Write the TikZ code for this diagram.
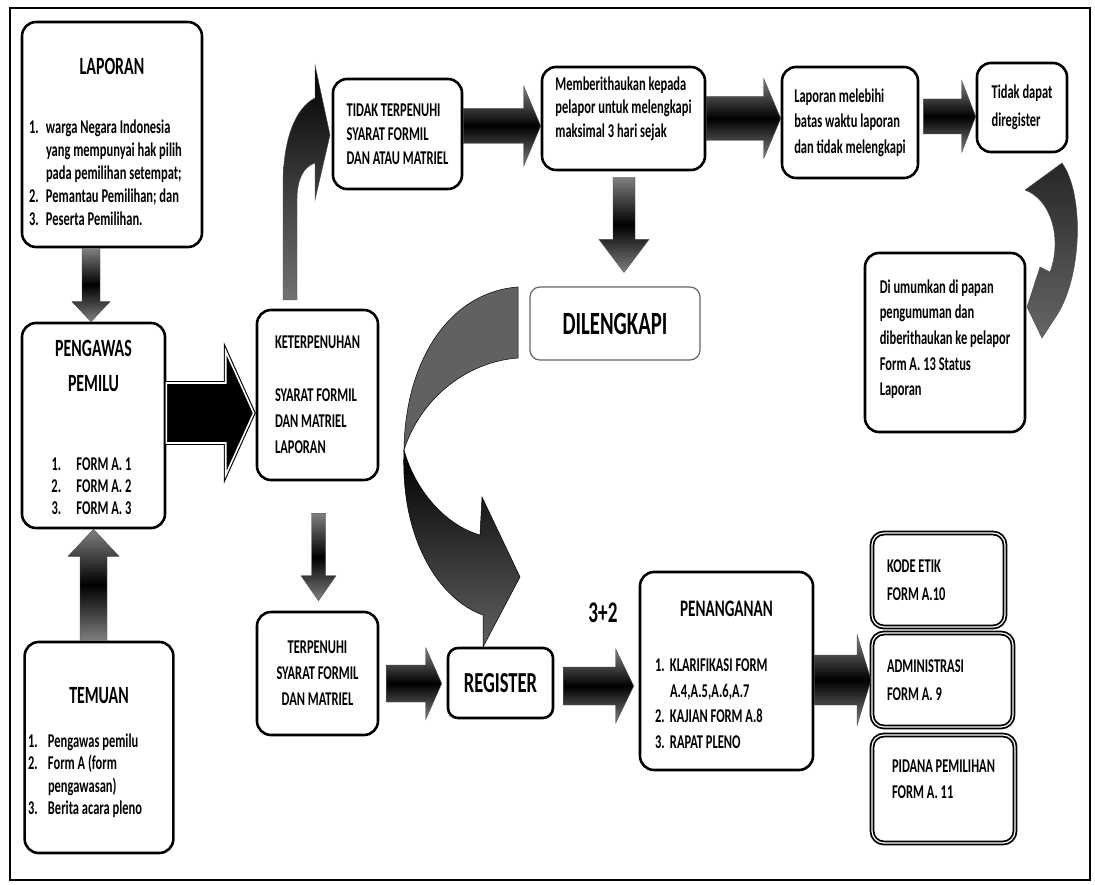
\documentclass[tikz,border=0pt]{standalone}
\usepackage{fontspec}
\setmainfont{Carlito}[FakeStretch=0.64]
\usetikzlibrary{calc}

\newcommand{\nmr}[2][17pt]{\makebox[#1][l]{#2}}
\newcommand{\ttl}{\fontsize{24.8}{26}\selectfont}

\tikzset{
  box/.style={draw, line width=2.6pt, rounded corners=14pt, fill=white, align=flush left,
    font=\fontsize{19.5}{25}\selectfont\bfseries},
  tribox/.style={box, line width=1.8pt, double=white, double distance=1.2pt, rounded corners=12pt},
  thinbox/.style={draw=black!60, line width=1.2pt, rounded corners=10pt, fill=white,
    font=\fontsize{32.4}{34}\selectfont\bfseries},
  barrow/.style={draw=black!70, line width=0.4pt, top color=black!50, bottom color=black!50, middle color=black},
  bigarrow/.style={fill=black, draw=black, line width=1.1pt, double=white, double distance=1.6pt},
  rarrow/.style n args={3}{to path={let \p1=(\tikztostart), \p2=(\tikztotarget) in
    (\x1,\y1+#1) -- (\x2-#3,\y1+#1) -- (\x2-#3,\y1+#2) -- (\x2,\y1)
    -- (\x2-#3,\y1-#2) -- (\x2-#3,\y1-#1) -- (\x1,\y1-#1) -- cycle}},
  darrow/.style n args={3}{to path={let \p1=(\tikztostart), \p2=(\tikztotarget) in
    (\x1-#1,\y1) -- (\x1-#1,\y2+#3) -- (\x1-#2,\y2+#3) -- (\x1,\y2)
    -- (\x1+#2,\y2+#3) -- (\x1+#1,\y2+#3) -- (\x1+#1,\y1) -- cycle}},
  uarrow/.style n args={3}{to path={let \p1=(\tikztostart), \p2=(\tikztotarget) in
    (\x1-#1,\y1) -- (\x1-#1,\y2-#3) -- (\x1-#2,\y2-#3) -- (\x1,\y2)
    -- (\x1+#2,\y2-#3) -- (\x1+#1,\y2-#3) -- (\x1+#1,\y1) -- cycle}},
}

\begin{document}
\begin{tikzpicture}[x=1pt, y=-1pt]
\useasboundingbox (0,0) rectangle (1095,885);
\draw[line width=1.4pt] (10,8) rectangle (1090,880);

% kolom kiri
\node[box, text width=166pt, minimum width=180pt, minimum height=225pt,
  font=\fontsize{19.5}{23}\selectfont\bfseries] (laporan) at (112,134.5)
  {\makebox[\linewidth]{\rule{0pt}{32pt}\ttl LAPORAN}\\[36pt]
   \nmr{1.}warga Negara Indonesia\\
   \hspace*{17pt}yang mempunyai hak pilih\\
   \hspace*{17pt}pada pemilihan setempat;\\
   \nmr{2.}Pemantau Pemilihan; dan\\
   \nmr{3.}Peserta Pemilihan.};
\node[box, text width=100pt, minimum width=143pt, minimum height=205pt,
  font=\fontsize{19.5}{22}\selectfont\bfseries] (pengawas) at (93.5,425.5)
  {\makebox[\linewidth]{\rule{0pt}{20pt}\ttl PENGAWAS}\\[13pt]
   \makebox[\linewidth]{\ttl PEMILU}\\[57pt]
   \hspace*{8pt}\nmr[25pt]{1.}FORM A. 1\\
   \hspace*{8pt}\nmr[25pt]{2.}FORM A. 2\\
   \hspace*{8pt}\nmr[25pt]{3.}FORM A. 3};
\node[box, text width=142pt, minimum width=148pt, minimum height=211pt,
  font=\fontsize{19.5}{22.5}\selectfont\bfseries] (temuan) at (99,747.5)
  {\makebox[\linewidth]{\rule{0pt}{27pt}\ttl TEMUAN}\\[21pt]
   \nmr[20pt]{1.}Pengawas pemilu\\
   \nmr[20pt]{2.}Form A (form\\
   \hspace*{20pt}pengawasan)\\
   \nmr[20pt]{3.}Berita acara pleno};

% kolom tengah
\node[box, minimum width=121pt, minimum height=170pt,
  font=\fontsize{19.5}{26}\selectfont\bfseries] (keterpenuhan) at (317.5,395)
  {KETERPENUHAN\\[27pt]SYARAT FORMIL\\DAN MATRIEL\\LAPORAN};
\node[box, align=center, minimum width=121pt, minimum height=123pt,
  font=\fontsize{19.5}{26}\selectfont\bfseries] (terpenuhi) at (317.5,673.5)
  {TERPENUHI\\SYARAT FORMIL\\DAN MATRIEL};
\node[box, rounded corners=10pt, minimum width=105pt, minimum height=70pt,
  font=\fontsize{29}{31}\selectfont\bfseries] (register) at (500.5,683) {REGISTER};
\node[font=\fontsize{30}{32}\selectfont\bfseries] (tigadua) at (603,613) {3+2};
\node[box, text width=143pt, minimum width=173pt, minimum height=198pt,
  font=\fontsize{19.5}{25.5}\selectfont\bfseries] (penanganan) at (726.5,671)
  {\makebox[\linewidth]{\rule{0pt}{23pt}\fontsize{23.7}{25}\selectfont PENANGANAN}\\[30pt]
   \nmr[15pt]{1.}KLARIFIKASI FORM\\
   \hspace*{15pt}A.4,A.5,A.6,A.7\\
   \nmr[15pt]{2.}KAJIAN FORM A.8\\
   \nmr[15pt]{3.}RAPAT PLENO};

% kolom kanan bawah
\node[tribox, text width=103pt, minimum width=133pt, minimum height=94pt,
  font=\fontsize{19.5}{28}\selectfont\bfseries] (kodeetik) at (938.5,580)
  {KODE ETIK\\FORM A.10};
\node[tribox, text width=111pt, minimum width=141pt, minimum height=94pt,
  font=\fontsize{19.5}{28}\selectfont\bfseries] (administrasi) at (942.5,680)
  {ADMINISTRASI\\FORM A. 9};
\node[tribox, minimum width=143pt, minimum height=108pt,
  font=\fontsize{19.5}{26}\selectfont\bfseries] (pidana) at (943.5,789)
  {PIDANA PEMILIHAN\\FORM A. 11\\[-6pt]~};

% baris atas
\node[box, minimum width=129pt, minimum height=110pt,
  font=\fontsize{19.5}{24}\selectfont\bfseries] (tidakterpenuhi) at (397.5,134)
  {TIDAK TERPENUHI\\SYARAT FORMIL\\DAN ATAU MATRIEL};
\node[box, minimum width=163pt, minimum height=103pt,
  font=\fontsize{19.5}{23.5}\selectfont\bfseries] (memberitahu) at (623.5,118.5)
  {Memberithaukan kepada\\pelapor untuk melengkapi\\maksimal 3 hari sejak\\~};
\node[box, minimum width=136pt, minimum height=111pt,
  font=\fontsize{19.5}{25.5}\selectfont\bfseries] (melebihi) at (850,122.5)
  {Laporan melebihi\\batas waktu laporan\\dan tidak melengkapi};
\node[box, minimum width=90pt, minimum height=89pt,
  font=\fontsize{19.5}{28}\selectfont\bfseries] (tidakdapat) at (1022,107.5)
  {Tidak dapat\\diregister};
\node[box, minimum width=160pt, minimum height=179pt,
  font=\fontsize{19.5}{25.7}\selectfont\bfseries] (diumumkan) at (945,342.5)
  {Di umumkan di papan\\pengumuman dan\\diberithaukan ke pelapor\\Form A. 13 Status\\Laporan\\[-16pt]~};
\node[thinbox, minimum width=170pt, minimum height=73pt] (dilengkapi) at (615,323.5) {DILENGKAPI};

% panah lurus
\draw[barrow, darrow={9pt}{19pt}{20pt}] ([xshift=-21pt]laporan.south) to (pengawas.north);
\draw[barrow, uarrow={13.5pt}{25.5pt}{27pt}] ([xshift=-5.5pt]temuan.north) to (pengawas.south);
\draw[bigarrow, rarrow={30pt}{62pt}{28pt}] ([yshift=12.5pt]pengawas.east) to ([xshift=-2pt]keterpenuhan.west);
\draw[barrow, darrow={7pt}{17.5pt}{25pt}] ([xshift=1pt,yshift=-32pt]keterpenuhan.south) to ([yshift=10pt]terpenuhi.north);
\draw[barrow, rarrow={18.5pt}{36pt}{16pt}] ([xshift=7pt,yshift=-10pt]terpenuhi.east) to ([xshift=-5pt]register.west);
\draw[barrow, rarrow={19pt}{37pt}{18pt}] ([xshift=9pt,yshift=-3pt]register.east) to ([xshift=-5pt]penanganan.west);
\draw[barrow, rarrow={25pt}{45pt}{14pt}] ([yshift=-9pt]penanganan.east) to (administrasi.west);
\draw[barrow, rarrow={17.5pt}{40pt}{17pt}] ([yshift=8pt]tidakterpenuhi.east) to (memberitahu.west);
\draw[barrow, rarrow={22pt}{40pt}{17pt}] (memberitahu.east) to (melebihi.west);
\draw[barrow, rarrow={17.5pt}{36pt}{14pt}] ([xshift=4pt,yshift=6pt]melebihi.east) to (tidakdapat.west);
\draw[barrow, darrow={11pt}{25pt}{33pt}] ([xshift=0.5pt,yshift=-6pt]memberitahu.south) to ([yshift=14pt]dilengkapi.north);

% panah lengkung
\draw[draw=black!70, line width=0.4pt, top color=black, bottom color=black!55]
  (283,300) -- (283,185) .. controls (283,140) and (295,108) .. (315,98) -- (315,65)
  -- (330,135) -- (315,200) -- (315,163) .. controls (303,167) and (297,180) .. (297,200)
  -- (297,300) -- cycle;
\draw[draw=black!70, line width=0.4pt, top color=black!85, bottom color=black!60]
  (1025,190) .. controls (1052,200) and (1062,240) .. (1050,272) -- (1040,267)
  -- (1027,307) -- (1042,338) -- (1055,318) .. controls (1082,280) and (1085,195) .. (1062,163)
  -- cycle;
\draw[draw=black, line width=0.5pt, fill=black!62]
  (518,287) .. controls (450,292) and (405,360) .. (404,450)
  .. controls (420,400) and (465,362) .. (518,358) -- cycle;
\draw[draw=black, line width=0.5pt, top color=black, bottom color=black!62]
  (404,450) .. controls (400,540) and (440,600) .. (483,615) -- (483,647) -- (520,577)
  -- (482,497) -- (480,535) .. controls (445,525) and (415,490) .. (404,450) -- cycle;
\end{tikzpicture}
\end{document}
